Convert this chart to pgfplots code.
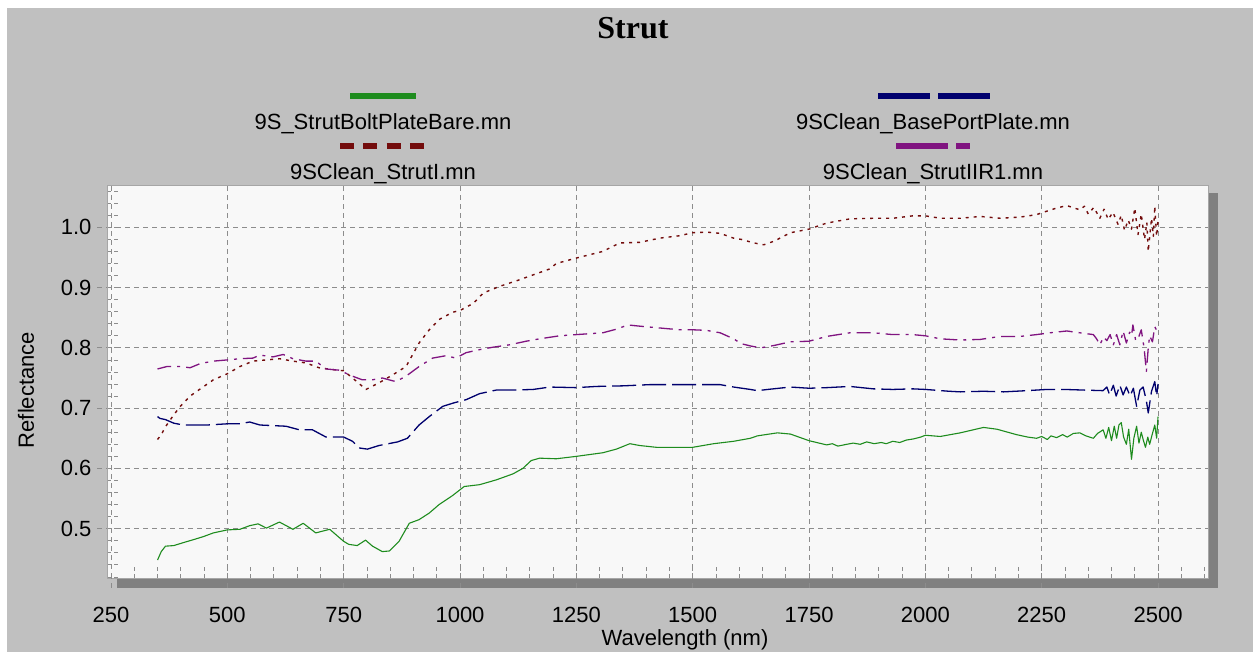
\documentclass[border=0pt]{standalone}
\usepackage{pgfplots}
\pgfplotsset{compat=1.18}
\usepackage{fontspec}
\setmainfont{Liberation Sans}
\newfontfamily\titlefont{Liberation Serif}

\definecolor{bggray}{RGB}{192,192,192}
\definecolor{shadowgray}{RGB}{128,128,128}
\definecolor{plotbg}{RGB}{248,248,248}
\definecolor{gridgray}{RGB}{140,140,140}
\definecolor{sgreen}{RGB}{30,140,30}
\definecolor{snavy}{RGB}{0,0,110}
\definecolor{smaroon}{RGB}{115,12,12}
\definecolor{spurple}{RGB}{128,20,128}

\newcommand{\lbl}{\fontsize{22bp}{26bp}\selectfont}

\begin{document}
\begin{tikzpicture}
% background, white margin on top and left
\fill[white] (0,0) rectangle (1253bp,652bp);
\fill[bggray] (7bp,0) rectangle (1253bp,644bp);
% drop shadow of the plot area
\fill[shadowgray] (117bp,64bp) rectangle (1218bp,459bp);

\begin{axis}[
    at={(107bp,74bp)}, anchor=south west,
    scale only axis, width=1101bp, height=393bp,
    xmin=241.4, xmax=2607.4, ymin=0.4182, ymax=1.0702,
    axis background/.style={fill=plotbg},
    axis line style={draw=gray!70, line width=0.8bp},
    tick pos=left, tick align=inside,
    xtick={250,500,...,2500},
    ytick={0.5,0.6,...,1.0},
    minor xtick={300,350,...,2600},
    minor ytick={0.42,0.44,...,1.07},
    major tick length=0pt, minor tick length=11bp,
    minor tick style={gridgray, line width=0.8bp, dash pattern=on 4bp off 3bp},
    grid=major,
    major grid style={gridgray, line width=0.8bp, dash pattern=on 5bp off 4bp},
    tick label style={font=\lbl, text=black},
    /pgf/number format/assume math mode=true,
    xticklabel style={yshift=-26bp, /pgf/number format/set thousands separator={}},
    yticklabel style={xshift=-12bp, /pgf/number format/fixed,
      /pgf/number format/fixed zerofill, /pgf/number format/precision=1},
    title={\titlefont\bfseries\fontsize{32bp}{36bp}\selectfont Strut},
    title style={at={(0.4777,1.384)}, anchor=center},
    xlabel={Wavelength (nm)},
    xlabel style={font=\lbl, at={(0.525,-0.1578)}, anchor=center},
    ylabel={Reflectance},
    ylabel style={font=\lbl, at={(-0.0736,0.478)}, anchor=center, rotate=0},
    line join=round,
  ]

% 9S_StrutBoltPlateBare.mn
\addplot[sgreen, line width=1.1bp] coordinates {
 (350,0.448) (358,0.462) (367,0.471) (385,0.472) (406,0.477) (428,0.482)
 (449,0.487) (470,0.493) (500,0.498) (527,0.499) (548,0.505) (566,0.508)
 (584,0.501) (612,0.511) (641,0.499) (663,0.509) (690,0.493) (720,0.499)
 (750,0.479) (761,0.474) (779,0.472) (797,0.481) (812,0.471) (833,0.462)
 (848,0.463) (869,0.479) (891,0.509) (912,0.515) (934,0.526) (955,0.540)
 (984,0.555) (1009,0.570) (1042,0.573) (1078,0.581) (1114,0.591) (1135,0.600)
 (1153,0.613) (1171,0.617) (1207,0.616) (1250,0.620) (1307,0.626) (1336,0.632)
 (1365,0.641) (1386,0.638) (1422,0.635) (1500,0.635) (1545,0.641) (1588,0.645)
 (1624,0.650) (1639,0.654) (1682,0.659) (1710,0.657) (1750,0.646) (1788,0.639)
 (1800,0.641) (1812,0.637) (1831,0.640) (1845,0.642) (1860,0.640) (1874,0.644)
 (1890,0.641) (1905,0.643) (1916,0.641) (1930,0.645) (1945,0.643) (1959,0.647)
 (1975,0.649) (1990,0.652) (2000,0.655) (2032,0.653) (2075,0.659) (2125,0.668)
 (2154,0.665) (2196,0.656) (2220,0.652) (2239,0.650) (2250,0.653) (2262,0.648)
 (2270,0.654) (2282,0.651) (2295,0.656) (2305,0.652) (2318,0.658) (2332,0.659)
 (2345,0.654) (2361,0.650) (2370,0.658) (2382,0.664) (2388,0.650) (2394,0.668)
 (2400,0.646) (2406,0.670) (2411,0.650) (2416,0.672) (2421,0.676) (2426,0.652)
 (2432,0.640) (2437,0.665) (2443,0.615) (2448,0.650) (2454,0.670) (2459,0.642)
 (2464,0.660) (2468,0.648) (2473,0.635) (2478,0.652) (2482,0.640) (2487,0.655)
 (2493,0.672) (2497,0.650) (2500,0.686)
};

% 9SClean_BasePortPlate.mn
\addplot[snavy, line width=1.3bp, dash pattern=on 24bp off 6bp] coordinates {
 (350,0.686) (355,0.683) (367,0.681) (385,0.675) (406,0.672) (428,0.672)
 (456,0.672) (500,0.674) (527,0.674) (548,0.677) (570,0.672) (598,0.671)
 (626,0.670) (655,0.664) (683,0.664) (712,0.652) (750,0.652) (769,0.645)
 (783,0.634) (801,0.632) (826,0.638) (866,0.644) (887,0.650) (912,0.672)
 (934,0.686) (963,0.703) (988,0.709) (1013,0.714) (1042,0.724) (1078,0.730)
 (1114,0.730) (1157,0.731) (1193,0.735) (1250,0.734) (1293,0.736) (1351,0.737)
 (1408,0.739) (1500,0.739) (1559,0.739) (1588,0.735) (1624,0.731) (1639,0.729)
 (1661,0.731) (1710,0.735) (1750,0.733) (1788,0.734) (1838,0.736) (1888,0.732)
 (1930,0.731) (1973,0.732) (2000,0.731) (2051,0.728) (2075,0.727) (2125,0.728)
 (2168,0.727) (2218,0.729) (2261,0.731) (2300,0.731) (2339,0.730) (2382,0.729)
 (2390,0.735) (2396,0.722) (2404,0.738) (2410,0.720) (2418,0.738) (2425,0.722)
 (2432,0.735) (2440,0.720) (2447,0.733) (2454,0.703) (2461,0.730) (2468,0.735)
 (2475,0.712) (2479,0.692) (2486,0.728) (2493,0.744) (2497,0.720) (2500,0.740)
};

% 9SClean_StrutI.mn
\addplot[smaroon, line width=1.4bp, dash pattern=on 3bp off 5bp] coordinates {
 (350,0.648) (358,0.656) (367,0.669) (385,0.689) (399,0.703) (420,0.720)
 (442,0.732) (470,0.747) (500,0.757) (527,0.769) (555,0.778) (584,0.780)
 (612,0.782) (641,0.778) (669,0.775) (697,0.767) (726,0.764) (750,0.762)
 (769,0.750) (798,0.731) (826,0.742) (855,0.755) (884,0.769) (912,0.808)
 (934,0.830) (955,0.847) (984,0.859) (1000,0.862) (1029,0.874) (1050,0.891)
 (1085,0.902) (1128,0.913) (1164,0.923) (1193,0.931) (1207,0.940) (1250,0.949)
 (1307,0.960) (1343,0.974) (1386,0.975) (1429,0.982) (1472,0.986) (1500,0.991)
 (1530,0.992) (1559,0.990) (1588,0.982) (1604,0.980) (1632,0.974) (1653,0.971)
 (1675,0.977) (1710,0.991) (1750,0.997) (1788,1.007) (1838,1.014) (1888,1.015)
 (1930,1.015) (1973,1.019) (2000,1.019) (2032,1.015) (2075,1.015) (2118,1.018)
 (2161,1.015) (2204,1.017) (2239,1.021) (2250,1.024) (2282,1.032) (2304,1.036)
 (2332,1.029) (2342,1.035) (2350,1.022) (2362,1.033) (2375,1.015) (2384,1.030)
 (2393,1.013) (2403,1.025) (2414,1.005) (2421,1.020) (2428,0.995) (2436,1.012)
 (2443,0.997) (2450,1.032) (2457,0.988) (2464,1.022) (2471,0.980) (2476,1.008)
 (2479,0.960) (2486,1.015) (2490,0.985) (2493,1.035) (2497,0.985) (2500,1.010)
};

% 9SClean_StrutIIR1.mn
\addplot[spurple, line width=1.3bp, dash pattern=on 14bp off 6bp on 3bp off 6bp] coordinates {
 (350,0.765) (370,0.769) (399,0.769) (420,0.767) (442,0.774) (470,0.778)
 (500,0.780) (527,0.782) (555,0.783) (570,0.788) (598,0.785) (620,0.789)
 (641,0.782) (669,0.778) (690,0.778) (712,0.765) (740,0.763) (769,0.753)
 (790,0.747) (812,0.747) (833,0.750) (862,0.744) (884,0.753) (912,0.769)
 (941,0.783) (970,0.787) (991,0.783) (1013,0.792) (1042,0.797) (1070,0.801)
 (1106,0.805) (1142,0.811) (1171,0.815) (1214,0.820) (1250,0.822) (1307,0.825)
 (1336,0.831) (1361,0.838) (1386,0.836) (1429,0.833) (1472,0.830) (1500,0.830)
 (1530,0.829) (1559,0.825) (1588,0.815) (1604,0.807) (1625,0.803) (1646,0.800)
 (1675,0.804) (1710,0.810) (1750,0.811) (1788,0.819) (1838,0.825) (1888,0.825)
 (1930,0.822) (1973,0.822) (2000,0.820) (2032,0.815) (2075,0.813) (2118,0.814)
 (2161,0.819) (2204,0.819) (2239,0.822) (2268,0.825) (2304,0.828) (2332,0.825)
 (2361,0.822) (2368,0.815) (2375,0.805) (2383,0.818) (2390,0.812) (2397,0.822)
 (2404,0.805) (2411,0.822) (2418,0.805) (2425,0.828) (2432,0.808) (2439,0.826)
 (2443,0.820) (2446,0.838) (2452,0.812) (2457,0.815) (2464,0.830) (2470,0.800)
 (2475,0.761) (2479,0.800) (2482,0.820) (2488,0.810) (2493,0.835) (2500,0.825)
};
\end{axis}

% outward parts of the major ticks
\begin{axis}[
    at={(107bp,74bp)}, anchor=south west,
    scale only axis, width=1101bp, height=393bp,
    xmin=241.4, xmax=2607.4, ymin=0.4182, ymax=1.0702,
    axis line style={draw=none},
    tick pos=left, tick align=outside,
    xtick={250,500,...,2500}, ytick={0.5,0.6,...,1.0},
    xticklabels={}, yticklabels={},
    major tick length=10bp,
    major tick style={gridgray, line width=0.8bp, dash pattern=on 5bp off 4bp},
  ]
\end{axis}

% legend
\draw[sgreen, line width=6bp] (350bp,556bp) -- (416bp,556bp);
\node[font=\lbl, anchor=base] at (383bp,522bp) {9S\_StrutBoltPlateBare.mn};
\draw[smaroon, line width=6bp, dash pattern=on 14bp off 9.33bp] (340bp,506bp) -- (424bp,506bp);
\node[font=\lbl, anchor=base] at (383bp,472bp) {9SClean\_StrutI.mn};
\draw[snavy, line width=6bp, dash pattern=on 52bp off 8bp] (878bp,556bp) -- (990bp,556bp);
\node[font=\lbl, anchor=base] at (933bp,522bp) {9SClean\_BasePortPlate.mn};
\draw[spurple, line width=6bp, dash pattern=on 52bp off 8bp on 14bp off 8bp] (896bp,506bp) -- (970bp,506bp);
\node[font=\lbl, anchor=base] at (933bp,472bp) {9SClean\_StrutIIR1.mn};
\end{tikzpicture}
\end{document}
